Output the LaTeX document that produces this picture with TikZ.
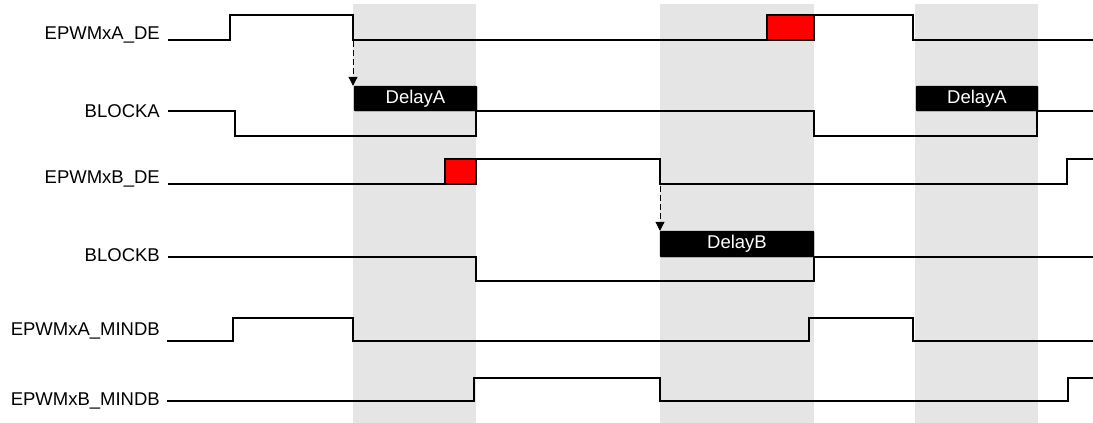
\documentclass[tikz,border=0pt]{standalone}
\usepackage{fontspec}
\setmainfont{Liberation Sans}
\usetikzlibrary{arrows.meta}
\tikzset{
  lbl/.style={anchor=base east, inner sep=0pt, font=\fontsize{18.5}{22}\selectfont},
  sig/.style={line width=2pt, line join=miter},
  band/.style={fill=gray!20, draw=none},
  redbox/.style={fill=red, draw=black, line width=2pt},
  delaybox/.style={fill=black, draw=black, rounded corners=1pt, inner sep=0pt, text=white, font=\fontsize{18.5}{22}\selectfont},
  darrow/.style={line width=1pt, dash pattern=on 6pt off 3pt, -{Triangle[length=9pt,width=9pt]}}
}
\begin{document}
\begin{tikzpicture}[x=1pt,y=-1pt]
\useasboundingbox (0,0) rectangle (1093,423);
% shaded bands
\fill[band] (353,4) rectangle (476,423);
\fill[band] (660,4) rectangle (814,423);
\fill[band] (915,4) rectangle (1038,423);
% labels
\node[lbl] (lAde) at (160,39.5) {EPWMxA\_DE};
\node[lbl] (lBlA) at (160,117) {BLOCKA};
\node[lbl] (lBde) at (160,183.5) {EPWMxB\_DE};
\node[lbl] (lBlB) at (160,261) {BLOCKB};
\node[lbl] (lAmin) at (160,335.7) {EPWMxA\_MINDB};
\node[lbl] (lBmin) at (160,405) {EPWMxB\_MINDB};
% delay boxes
\node[delaybox, minimum width=123pt, minimum height=25pt] (dA1) at (415.5,98.5) {DelayA};
\node[delaybox, minimum width=122pt, minimum height=25pt] (dA2) at (977,98.5) {DelayA};
\node[delaybox, minimum width=154pt, minimum height=26pt] (dB) at (737,244) {DelayB};
% red boxes
\draw[redbox] (767,15) rectangle (814,39.5);
\draw[redbox] (445,159) rectangle (476,184);
% signals
\draw[sig] (168,39.5) -- (230,39.5) -- (230,15) -- (353,15) -- (353,39.5) -- (767,39.5) -- (767,15) -- (913,15) -- (913,39.5) -- (1093,39.5);
\draw[sig] (168,111) -- (235,111) -- (235,136) -- (476,136) -- (476,111) -- (814,111) -- (814,136) -- (1037,136) -- (1037,111) -- (1093,111);
\draw[sig] (168,184) -- (445,184) -- (445,159) -- (660,159) -- (660,184) -- (1067,184) -- (1067,159) -- (1093,159);
\draw[sig] (168,256.5) -- (476,256.5) -- (476,281) -- (814,281) -- (814,256.5) -- (1093,256.5);
\draw[sig] (167,341) -- (233,341) -- (233,318) -- (353,318) -- (353,341) -- (809,341) -- (809,318) -- (913,318) -- (913,341) -- (1093,341);
\draw[sig] (167,401) -- (474,401) -- (474,378) -- (660,378) -- (660,401) -- (1068,401) -- (1068,378) -- (1093,378);
% dashed arrows
\coordinate (aA) at (353,41);
\coordinate (aB) at (660,185.5);
\draw[darrow] (aA) -- (aA |- dA1.north);
\draw[darrow] (aB) -- (aB |- dB.north);
\end{tikzpicture}
\end{document}
